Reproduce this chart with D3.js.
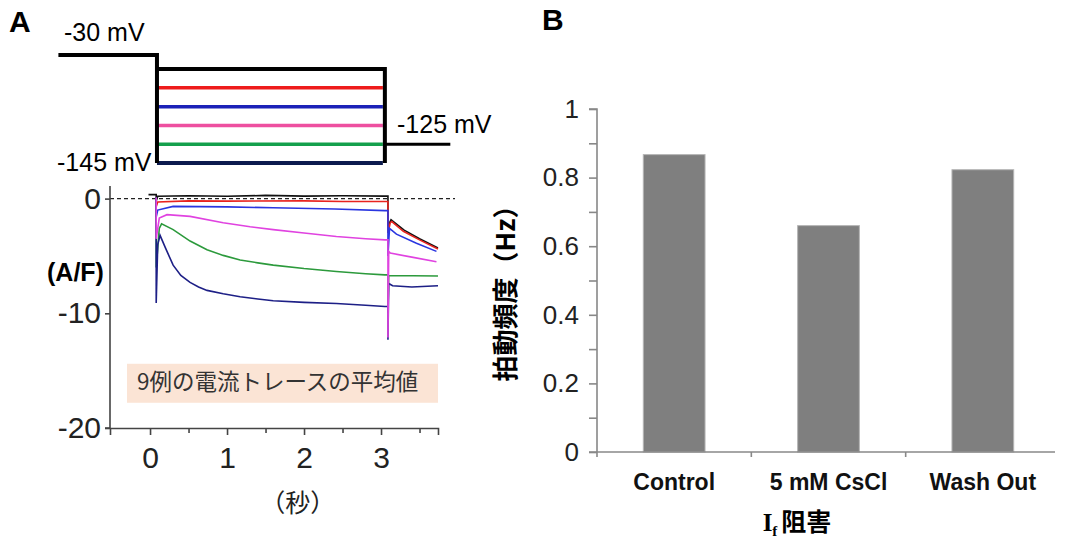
<!DOCTYPE html>
<html>
<head>
<meta charset="utf-8">
<script src="https://cdn.jsdelivr.net/npm/d3@7"></script>
<style>
  body { margin: 0; background: #fff; }
  text { font-family: "Liberation Sans", Arial, sans-serif; }
  .cjk { font-family: "Noto Sans CJK JP", sans-serif; }
</style>
</head>
<body>
<div id="fig"></div>
<script>
var svgWidth = 1067;
var svgHeight = 541;

// ---------- panel A data ----------
var holdingMv = -30;
var tailMv = -125;
var stepLevels = [-45, -65, -85, -105, -125, -145];
var stepColors = ["#000000", "#ee1c1c", "#1c22b8", "#ee4fa0", "#14a04c", "#0c1a4e"];
var protoTimes = [-1.19, 0.09, 3.05, 3.9]; // holding start, step on, step off, tail end

var traceBlack = [[-0.02,0.35],[0.08,0.35],[0.08,-0.2],[0.1,0.2],[0.5,0.25],[1.0,0.2],[1.5,0.28],[2.0,0.22],[2.5,0.25],[3.05,0.22],[3.09,0.22],[3.09,-2.4],[3.13,-1.85],[3.3,-2.75],[3.5,-3.5],[3.74,-4.3]];
var traceRed = [[0.08,0.1],[0.08,-0.7],[0.1,-0.3],[0.5,-0.2],[1.0,-0.22],[2.0,-0.2],[2.5,-0.25],[3.05,-0.25],[3.09,-0.25],[3.09,-3.0],[3.12,-2.1],[3.14,-2.0],[3.29,-2.85],[3.5,-3.6],[3.74,-4.4]];
var traceBlue = [[0.08,0.1],[0.08,-1.6],[0.1,-1.0],[0.3,-0.68],[1.0,-0.72],[1.6,-0.8],[2.4,-0.9],[3.05,-1.05],[3.09,-1.05],[3.09,-5.0],[3.11,-2.6],[3.2,-3.1],[3.46,-3.9],[3.72,-4.6]];
var traceMagenta = [[0.08,0.1],[0.08,-3.5],[0.12,-1.7],[0.22,-1.4],[0.52,-1.55],[0.95,-2.1],[1.3,-2.45],[1.6,-2.7],[2.0,-3.0],[2.42,-3.3],[2.8,-3.5],[3.05,-3.6],[3.09,-3.6],[3.09,-12.1],[3.1,-4.6],[3.12,-4.75],[3.4,-5.1],[3.72,-5.5]];
var traceGreen = [[0.08,0.1],[0.08,-6.0],[0.12,-2.6],[0.15,-2.2],[0.3,-2.7],[0.52,-3.7],[0.74,-4.45],[0.95,-4.95],[1.17,-5.35],[1.4,-5.6],[1.6,-5.8],[2.0,-6.1],[2.42,-6.35],[2.8,-6.55],[3.05,-6.65],[3.09,-6.65],[3.09,-10.0],[3.1,-6.7],[3.74,-6.75]];
var traceNavy = [[0.08,0.1],[0.08,-9.1],[0.1,-4.0],[0.13,-3.2],[0.2,-4.3],[0.3,-5.8],[0.4,-6.7],[0.52,-7.3],[0.63,-7.7],[0.74,-8.0],[0.95,-8.3],[1.17,-8.55],[1.4,-8.75],[1.6,-8.9],[2.0,-9.05],[2.42,-9.15],[2.8,-9.3],[3.05,-9.4],[3.09,-9.4],[3.09,-12.3],[3.1,-7.4],[3.15,-7.6],[3.4,-7.7],[3.74,-7.6]];

var traces = [
  {data: traceBlack, color: "#111111"},
  {data: traceRed, color: "#e8231f"},
  {data: traceBlue, color: "#2a36e0"},
  {data: traceGreen, color: "#2c9a3c"},
  {data: traceNavy, color: "#1d1f86"},
  {data: traceMagenta, color: "#e043e0"}
];

var timeTicks = [0, 1, 2, 3];
var timeMinor = [0.5, 1.5, 2.5, 3.5];
var currentTicks = [-20, -10, 0];

// ---------- panel B data ----------
var groups = ["Control", "5 mM CsCl", "Wash Out"];
var rates = [0.867, 0.66, 0.823];
var rateTicks = [0, 0.1, 0.2, 0.3, 0.4, 0.5, 0.6, 0.7, 0.8, 0.9, 1];

var svg = d3.select("#fig").append("svg")
  .attr("width", svgWidth)
  .attr("height", svgHeight);

// panel letters
svg.append("text").attr("x", 9).attr("y", 32).text("A")
  .style("font-size", "30px").style("font-weight", "bold");
svg.append("text").attr("x", 542).attr("y", 30).text("B")
  .style("font-size", "30px").style("font-weight", "bold");

///////////////////////////////////////////////////////////////////////
// Panel A: protocol
var xA = d3.scaleLinear().domain([-0.52, 3.74]).range([110, 438]);
var vScale = d3.scaleLinear().domain([holdingMv, -145]).range([55, 163]);

var proto = svg.append("g");

stepLevels.forEach(function(mv, i) {
  if (i === 0) return;
  proto.append("line")
    .attr("x1", xA(protoTimes[1])).attr("x2", xA(protoTimes[2]) - 2)
    .attr("y1", vScale(mv)).attr("y2", vScale(mv))
    .attr("stroke", stepColors[i]).attr("stroke-width", i === stepLevels.length - 1 ? 4 : 3.5);
});

var outline = d3.line().x(d => xA(d[0])).y(d => vScale(d[1]));
proto.append("path")
  .attr("d", outline([[protoTimes[0], holdingMv], [protoTimes[1], holdingMv], [protoTimes[1], -145]]))
  .attr("fill", "none").attr("stroke", "#000").attr("stroke-width", 4);
proto.append("path")
  .attr("d", outline([[protoTimes[1], stepLevels[0]], [protoTimes[2], stepLevels[0]], [protoTimes[2], -145]]))
  .attr("fill", "none").attr("stroke", "#000").attr("stroke-width", 4);
proto.append("path")
  .attr("d", outline([[protoTimes[2], tailMv], [protoTimes[3], tailMv]]))
  .attr("fill", "none").attr("stroke", "#000").attr("stroke-width", 3);

proto.append("text").attr("x", 64).attr("y", 41).text("-30 mV").style("font-size", "25px");
proto.append("text").attr("x", 397).attr("y", 133).text("-125 mV").style("font-size", "25px");
proto.append("text").attr("x", 57).attr("y", 171).text("-145 mV").style("font-size", "25px");

///////////////////////////////////////////////////////////////////////
// Panel A: current traces
var yA = d3.scaleLinear().domain([-20, 1.1]).range([428, 186]);

var gA = svg.append("g");

gA.append("rect")
  .attr("x", 127).attr("y", yA(-14.4))
  .attr("width", 311).attr("height", yA(-17.8) - yA(-14.4))
  .attr("fill", "#fbe4d5");
gA.append("text").attr("class", "cjk")
  .attr("x", 137).attr("y", 390)
  .text("9例の電流トレースの平均値")
  .style("font-size", "22.5px").style("fill", "#333");

gA.append("line")
  .attr("x1", xA(-0.52)).attr("x2", 455)
  .attr("y1", yA(0)).attr("y2", yA(0))
  .attr("stroke", "#222").attr("stroke-width", 1.2)
  .attr("stroke-dasharray", "4,3");

var traceLine = d3.line().x(d => xA(d[0])).y(d => yA(d[1]));
gA.selectAll(".trace")
  .data(traces)
  .enter()
  .append("path")
  .attr("class", "trace")
  .attr("d", d => traceLine(d.data))
  .attr("fill", "none")
  .attr("stroke", d => d.color)
  .attr("stroke-width", 1.6);

var yAxisA = d3.axisLeft(yA).tickValues(currentTicks).tickSize(5).tickPadding(4).tickFormat(d => String(d));
var xAxisA = d3.axisBottom(xA).tickValues(timeTicks).tickSize(7).tickPadding(12).tickFormat(d => String(d));

gA.append("g")
  .attr("transform", `translate(${xA(-0.52)},0)`)
  .call(yAxisA)
  .call(g => g.select(".domain").attr("d", `M-5,${yA(-20)}H0V${yA(1.1)}`));
gA.append("g")
  .attr("transform", `translate(0,${yA(-20)})`)
  .call(xAxisA);
gA.append("g")
  .attr("transform", `translate(0,${yA(-20)})`)
  .call(d3.axisBottom(xA).tickValues(timeMinor).tickSize(5).tickFormat(""))
  .call(g => g.select(".domain").remove());

gA.selectAll(".domain, .tick line").attr("stroke", "#444").attr("stroke-width", 1.6);
gA.selectAll(".tick text").style("font-size", "30px").style("fill", "#222")
  .style("font-family", "'Liberation Sans', Arial, sans-serif");

gA.append("text").attr("x", 47).attr("y", 281).text("(A/F)")
  .style("font-size", "25px").style("font-weight", "bold");
gA.append("text").attr("class", "cjk")
  .attr("x", xA(1.92)).attr("y", 512).attr("text-anchor", "middle")
  .text("（秒）").style("font-size", "25px").style("fill", "#222");

///////////////////////////////////////////////////////////////////////
// Panel B: beating rate bars
var xB = d3.scaleBand().domain(groups).range([597, 1060]).paddingInner(0.6).paddingOuter(0.3);
var yB = d3.scaleLinear().domain([0, 1]).range([452, 109]);

var gB = svg.append("g");

gB.selectAll(".bar")
  .data(rates)
  .enter()
  .append("rect")
  .classed("bar", true)
  .attr("x", (d, i) => xB(groups[i]))
  .attr("width", xB.bandwidth())
  .attr("y", d => yB(d))
  .attr("height", d => yB(0) - yB(d))
  .attr("fill", "#7f7f7f")
  .attr("stroke", "#b5b5b5")
  .attr("stroke-width", 1);

var yAxisB = d3.axisLeft(yB).tickValues(rateTicks).tickSize(8).tickPadding(10)
  .tickFormat(d => (Math.round(d * 10) % 2 === 0 ? String(d) : ""));
gB.append("g")
  .attr("transform", "translate(597,0)")
  .call(yAxisB)
  .call(g => g.select(".domain").attr("d", `M0,${yB(0)}V${yB(1)}H-8`));

gB.append("line")
  .attr("x1", 589).attr("x2", 1055)
  .attr("y1", yB(0)).attr("y2", yB(0))
  .attr("stroke", "#888").attr("stroke-width", 1.6);
gB.selectAll(".cattick")
  .data(groups)
  .enter()
  .append("line")
  .attr("class", "cattick")
  .attr("x1", d => xB(d) - xB.step() * 0.3)
  .attr("x2", d => xB(d) - xB.step() * 0.3)
  .attr("y1", yB(0)).attr("y2", yB(0) + 5)
  .attr("stroke", "#888").attr("stroke-width", 1.6);

gB.selectAll(".domain, .tick line").attr("stroke", "#888").attr("stroke-width", 1.6);
gB.selectAll(".tick text").style("font-size", "26px").style("fill", "#222")
  .style("font-family", "'Liberation Sans', Arial, sans-serif");

gB.selectAll(".catlabel")
  .data(groups)
  .enter()
  .append("text")
  .attr("class", "catlabel")
  .attr("x", d => xB(d) + xB.bandwidth() / 2)
  .attr("y", 490)
  .attr("text-anchor", "middle")
  .text(d => d)
  .style("font-size", "23px").style("font-weight", "bold").style("fill", "#111");

var xTitle = gB.append("text")
  .attr("x", 797).attr("y", 531)
  .attr("text-anchor", "middle")
  .style("font-family", "'Liberation Serif', 'Noto Serif CJK JP', serif")
  .style("font-size", "25px").style("font-weight", "bold");
xTitle.append("tspan").text("I");
xTitle.append("tspan").attr("dy", 5).style("font-size", "15px").text("f");
xTitle.append("tspan").attr("dy", -5).attr("dx", 4).style("font-family", "'Noto Sans CJK JP', sans-serif").text("阻害");

gB.append("text").attr("class", "cjk")
  .attr("transform", "translate(515,287) rotate(-90)")
  .attr("text-anchor", "middle")
  .text("拍動頻度（Hz）")
  .style("font-size", "26px").style("font-weight", "bold");
</script>
</body>
</html>
